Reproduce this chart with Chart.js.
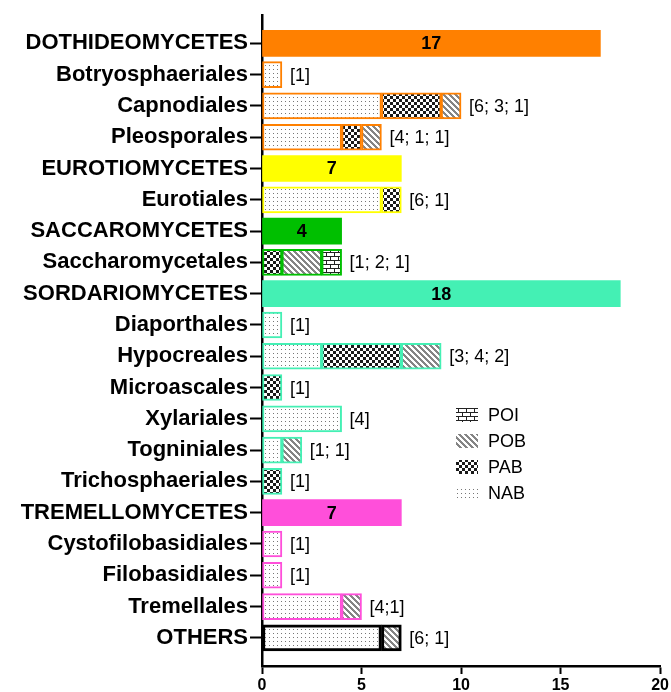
<!DOCTYPE html>
<html>
<head>
<meta charset="utf-8">
<script src="https://cdn.jsdelivr.net/npm/chart.js@4/dist/chart.umd.min.js"></script>
<style>
  body { margin: 0; background: #fff; }
  canvas { display: block; }
</style>
</head>
<body>
<canvas id="myChart" width="671" height="692"></canvas>
<script>
// rows from top to bottom
const categories = [
  "DOTHIDEOMYCETES", "Botryosphaeriales", "Capnodiales", "Pleosporales",
  "EUROTIOMYCETES", "Eurotiales",
  "SACCAROMYCETES", "Saccharomycetales",
  "SORDARIOMYCETES", "Diaporthales", "Hypocreales", "Microascales",
  "Xylariales", "Togniniales", "Trichosphaeriales",
  "TREMELLOMYCETES", "Cystofilobasidiales", "Filobasidiales", "Tremellales",
  "OTHERS"
];
const classTotals = [17, 0, 0, 0, 7, 0, 4, 0, 18, 0, 0, 0, 0, 0, 0, 7, 0, 0, 0, 0];
const nabValues = [0, 1, 6, 4, 0, 6, 0, 0, 0, 1, 3, 0, 4, 1, 0, 0, 1, 1, 4, 6];
const pabValues = [0, 0, 3, 1, 0, 1, 0, 1, 0, 0, 4, 1, 0, 0, 1, 0, 0, 0, 0, 0];
const pobValues = [0, 0, 1, 1, 0, 0, 0, 2, 0, 0, 2, 0, 0, 1, 0, 0, 0, 0, 1, 1];
const poiValues = [0, 0, 0, 0, 0, 0, 0, 1, 0, 0, 0, 0, 0, 0, 0, 0, 0, 0, 0, 0];
const countLabels = [
  "", "[1]", "[6; 3; 1]", "[4; 1; 1]", "", "[6; 1]", "", "[1; 2; 1]",
  "", "[1]", "[3; 4; 2]", "[1]", "[4]", "[1; 1]", "[1]",
  "", "[1]", "[1]", "[4;1]", "[6; 1]"
];
const groupOf = [0, 0, 0, 0, 1, 1, 2, 2, 3, 3, 3, 3, 3, 3, 3, 4, 4, 4, 4, 5];
const groupColors = ["#FF8000", "#FFFF00", "#00BF00", "#44F0B4", "#FF4FDA", "#000000"];
const legendLabels = ["POI", "POB", "PAB", "NAB"];

const FONT = "'Liberation Sans', Arial, sans-serif";

// fill patterns
function makePattern(w, h, draw) {
  let c = document.createElement("canvas");
  c.width = w;
  c.height = h;
  let g = c.getContext("2d");
  g.fillStyle = "#fff";
  g.fillRect(0, 0, w, h);
  draw(g);
  return g.createPattern(c, "repeat");
}

const nabPattern = makePattern(4, 4, g => {
  g.fillStyle = "#777";
  g.fillRect(1, 1, 1, 1);
});
const pabPattern = makePattern(6, 6, g => {
  g.fillStyle = "#1a1a1a";
  g.fillRect(0, 0, 3, 3);
  g.fillRect(3, 3, 3, 3);
});
const pobPattern = makePattern(6, 6, g => {
  g.fillStyle = "#858585";
  for (let y = 0; y < 6; y++) {
    for (let x = 0; x < 6; x++) {
      if ((x - y + 6) % 6 < 3) g.fillRect(x, y, 1, 1);
    }
  }
});
const poiPattern = makePattern(8, 8, g => {
  g.fillStyle = "#222";
  g.fillRect(0, 0, 8, 1);
  g.fillRect(0, 4, 8, 1);
  g.fillRect(2, 0, 1, 4);
  g.fillRect(6, 4, 1, 4);
});

function points(values) {
  return values.map((v, i) => ({ x: v, y: i })).filter(p => p.x > 0);
}

function rowColor(ctx) {
  if (!ctx.raw) return "#000";
  return groupColors[groupOf[ctx.raw.y]];
}

function rowBorderWidth(ctx) {
  if (!ctx.raw) return 2;
  return groupOf[ctx.raw.y] === 5 ? 3 : 2;
}

function patternDataset(label, values, pattern) {
  return {
    label: label,
    data: points(values),
    backgroundColor: pattern,
    borderColor: rowColor,
    borderWidth: rowBorderWidth,
    borderSkipped: false
  };
}

// labels at the end of each bar and totals inside class bars
const barLabels = {
  id: "barLabels",
  afterDatasetsDraw(chart) {
    let ctx = chart.ctx;
    let xScale = chart.scales.x;
    let yScale = chart.scales.y;
    ctx.save();
    ctx.fillStyle = "#000";
    ctx.textBaseline = "middle";
    for (let i = 0; i < categories.length; i++) {
      let y = yScale.getPixelForValue(i);
      if (classTotals[i] > 0) {
        ctx.font = "bold 18px " + FONT;
        ctx.textAlign = "center";
        ctx.fillText(String(classTotals[i]), (xScale.getPixelForValue(0) + xScale.getPixelForValue(classTotals[i])) / 2, y + 1);
      }
      if (countLabels[i]) {
        let total = nabValues[i] + pabValues[i] + pobValues[i] + poiValues[i];
        ctx.font = "18px " + FONT;
        ctx.textAlign = "left";
        ctx.fillText(countLabels[i], xScale.getPixelForValue(total) + 8, y + 1);
      }
    }
    ctx.restore();
  }
};

// legend drawn inside the plot area
const innerLegend = {
  id: "innerLegend",
  afterDraw(chart) {
    let ctx = chart.ctx;
    let patterns = { NAB: nabPattern, PAB: pabPattern, POB: pobPattern, POI: poiPattern };
    ctx.save();
    ctx.font = "18px " + FONT;
    ctx.textBaseline = "middle";
    ctx.textAlign = "left";
    legendLabels.forEach((name, k) => {
      let cy = 415 + k * 26;
      ctx.fillStyle = patterns[name];
      ctx.fillRect(456, cy - 7, 22, 14);
      ctx.fillStyle = "#000";
      ctx.fillText(name, 488, cy + 1);
    });
    ctx.restore();
  }
};

let chart = new Chart(document.getElementById("myChart"), {
  type: "bar",
  data: {
    datasets: [
      {
        label: "class",
        data: points(classTotals),
        backgroundColor: rowColor,
        borderColor: rowColor,
        borderWidth: 0,
        borderSkipped: false
      },
      patternDataset("NAB", nabValues, nabPattern),
      patternDataset("PAB", pabValues, pabPattern),
      patternDataset("POB", pobValues, pobPattern),
      patternDataset("POI", poiValues, poiPattern)
    ]
  },
  options: {
    responsive: false,
    animation: false,
    indexAxis: "y",
    barThickness: 26,
    layout: { padding: { top: 12, right: 9, bottom: 0, left: 0 } },
    plugins: {
      legend: { display: false },
      tooltip: { enabled: false }
    },
    scales: {
      x: {
        type: "linear",
        stacked: true,
        min: 0,
        max: 20,
        ticks: {
          stepSize: 5,
          color: "#000",
          padding: 2,
          font: { family: FONT, size: 16, weight: "bold" }
        },
        grid: {
          drawOnChartArea: false,
          tickLength: 8,
          tickWidth: 2,
          color: "#000"
        },
        border: { color: "#000", width: 2.5 },
        afterFit(scale) {
          scale.height = 26;
        }
      },
      y: {
        type: "linear",
        stacked: true,
        reverse: true,
        offset: false,
        min: -0.9,
        max: 19.9,
        afterBuildTicks(scale) {
          scale.ticks = categories.map((c, i) => ({ value: i }));
        },
        ticks: {
          autoSkip: false,
          color: "#000",
          padding: 2,
          font: { family: FONT, size: 22, weight: "bold" },
          callback: v => categories[v]
        },
        grid: {
          offset: false,
          drawOnChartArea: false,
          tickLength: 12,
          tickWidth: 2,
          color: "#000"
        },
        border: { color: "#000", width: 2.5 },
        afterFit(scale) {
          scale.width = 262;
        }
      }
    }
  },
  plugins: [barLabels, innerLegend]
});
</script>
</body>
</html>
